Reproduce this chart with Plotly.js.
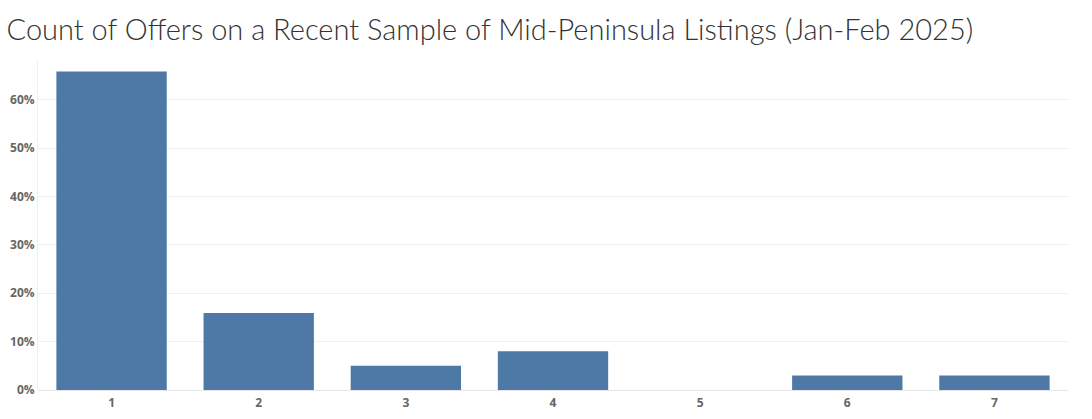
<!DOCTYPE html>
<html>
<head>
<meta charset="utf-8">
<script src="https://cdn.plot.ly/plotly-3.0.1.min.js"></script>
<style>html,body{margin:0;padding:0;background:#fff;}#chart{width:1092px;height:419px;}</style>
</head>
<body>
<div id="chart"></div>
<script>
const offerCounts = ['1','2','3','4','5','6','7'];
const shareOfListings = [0.658, 0.159, 0.050, 0.080, 0, 0.030, 0.030];
const yTickValues = [0, 0.1, 0.2, 0.3, 0.4, 0.5, 0.6];
const yTickLabels = ['0%','10%','20%','30%','40%','50%','60%'];

const trace = {
  type: 'bar',
  x: offerCounts,
  y: shareOfListings,
  marker: {color: '#4e79a7'},
  width: 0.75,
  hoverinfo: 'x+y'
};

const layout = {
  width: 1092, height: 419,
  margin: {l: 38, r: 24, t: 60, b: 29},
  paper_bgcolor: '#ffffff', plot_bgcolor: '#ffffff',
  title: {
    text: 'Count of Offers on a Recent Sample of Mid-Peninsula Listings (Jan-Feb 2025)',
    font: {family: 'Lato, "Open Sans", sans-serif', size: 29, color: '#333333', weight: 300},
    xref: 'container', yref: 'container', x: 0.006, xanchor: 'left', y: 0.928, yanchor: 'middle'
  },
  xaxis: {
    type: 'category',
    showgrid: false, zeroline: false,
    showline: false,
    ticks: '', ticklen: 0,
    ticklabelstandoff: 4,
    tickfont: {family: '"Open Sans", sans-serif', size: 12, color: '#666666', weight: 'bold'},
    range: [-0.5, 6.5]
  },
  yaxis: {
    range: [0, 0.682],
    tickvals: yTickValues, ticktext: yTickLabels,
    showgrid: true, gridcolor: '#f0f0f0', gridwidth: 1,
    zeroline: true, zerolinecolor: '#e6e6e6', zerolinewidth: 1,
    showline: true, linecolor: '#f0f0f0', linewidth: 1,
    ticks: '',
    tickfont: {family: '"Open Sans", sans-serif', size: 12, color: '#666666', weight: 'bold'}
  },
  bargap: 0.25,
  showlegend: false
};

Plotly.newPlot('chart', [trace], layout, {displayModeBar: false, staticPlot: true});
</script>
</body>
</html>
